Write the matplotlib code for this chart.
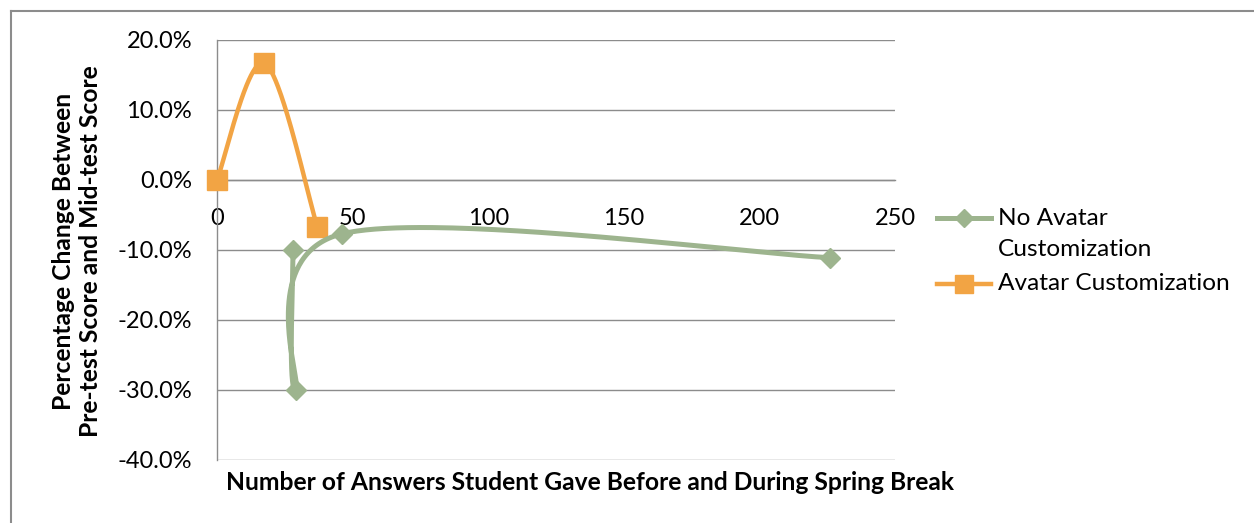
import matplotlib
matplotlib.use('Agg')
import matplotlib.pyplot as plt
import numpy as np
from matplotlib.lines import Line2D
from matplotlib.ticker import FuncFormatter

# ---- data ----
no_avatar_x = [28, 29, 46, 226]
no_avatar_y = [-0.10, -0.30, -0.077, -0.111]
avatar_x = [0, 17.5, 37]
avatar_y = [0.0, 0.167, -0.067]
series_names = ['No Avatar\nCustomization', 'Avatar Customization']
x_ticks = [0, 50, 100, 150, 200, 250]
y_ticks = [-0.4, -0.3, -0.2, -0.1, 0.0, 0.1, 0.2]
x_title = 'Number of Answers Student Gave Before and During Spring Break'
y_title = 'Percentage Change Between\nPre-test Score and Mid-test Score'

GREEN = '#9DB48E'
ORANGE = '#F2A444'
GRID = '#8C8C8C'
FONT = 'Lato'

W, H = 1254, 523
fig = plt.figure(figsize=(W / 100, H / 100), dpi=100)
plt.rcParams['font.family'] = [FONT, 'DejaVu Sans']


def fx(px):
    return px / W


def fy(py):
    return 1 - py / H


ax = fig.add_axes([fx(217), fy(460), 678 / W, 420 / H])
ax.set_xlim(x_ticks[0], x_ticks[-1])
ax.set_ylim(y_ticks[0], y_ticks[-1])
ax.set_xticks(x_ticks)
ax.set_yticks(y_ticks)
ax.yaxis.set_major_formatter(FuncFormatter(lambda v, p: f'{v * 100:.1f}%'))
ax.grid(axis='y', color=GRID, linewidth=1.0)
ax.set_axisbelow(True)
for s in ['top', 'right']:
    ax.spines[s].set_visible(False)
ax.spines['left'].set_color(GRID)
ax.spines['left'].set_linewidth(1.0)
ax.spines['bottom'].set_position(('data', 0))
ax.spines['bottom'].set_color(GRID)
ax.spines['bottom'].set_linewidth(1.0)
ax.tick_params(axis='both', length=0, labelsize=17, labelcolor='black')
ax.tick_params(axis='x', pad=20)
ax.tick_params(axis='y', pad=18)
for lab in ax.get_xticklabels() + ax.get_yticklabels():
    lab.set_fontfamily(FONT)


def smooth(ax, xs, ys, n=80):
    pts = ax.transData.transform(np.column_stack([xs, ys]))
    m = len(pts)
    out = [pts[0]]
    for i in range(m - 1):
        p0 = pts[i - 1] if i > 0 else pts[i]
        p1 = pts[i]
        p2 = pts[i + 1]
        p3 = pts[i + 2] if i + 2 < m else pts[i + 1]
        c1 = p1 + (p2 - p0) / 6.0
        c2 = p2 - (p3 - p1) / 6.0
        t = np.linspace(0, 1, n)[1:, None]
        b = ((1 - t) ** 3) * p1 + 3 * ((1 - t) ** 2) * t * c1 + 3 * (1 - t) * (t ** 2) * c2 + (t ** 3) * p2
        out.extend(b)
    out = np.array(out)
    return ax.transData.inverted().transform(out)


sa = smooth(ax, avatar_x, avatar_y)
ax.plot(sa[:, 0], sa[:, 1], color=ORANGE, lw=3.2, solid_capstyle='round', clip_on=False, zorder=3)
ax.plot(avatar_x, avatar_y, linestyle='none', marker='s', ms=14.5, color=ORANGE, mec=ORANGE, clip_on=False, zorder=4)

sn = smooth(ax, no_avatar_x, no_avatar_y)
ax.plot(sn[:, 0], sn[:, 1], color=GREEN, lw=3.6, solid_capstyle='round', clip_on=False, zorder=5)
ax.plot(no_avatar_x, no_avatar_y, linestyle='none', marker='D', ms=10.5, color=GREEN, mec=GREEN, clip_on=False, zorder=6)

# ---- legend (manual) ----
leg = [(GREEN, 'D', 10.5, 3.6, 218), (ORANGE, 's', 14.5, 3.2, 284)]
for (col, mk, ms, lw, yc), name in zip(leg, series_names):
    fig.add_artist(Line2D([fx(937), fx(991)], [fy(yc), fy(yc)], color=col, lw=lw,
                          transform=fig.transFigure))
    fig.add_artist(Line2D([fx(964)], [fy(yc)], marker=mk, ms=ms * 0.85, color=col, mec=col,
                          linestyle='none', transform=fig.transFigure))
    for k, line in enumerate(name.split('\n')):
        fig.text(fx(998), fy(yc + 32 * k), line, fontsize=17.6, family=FONT,
                 ha='left', va='center', color='black')

# ---- axis titles ----
fig.text(fx(590), fy(483), x_title, fontsize=17.7, fontweight='bold', family=FONT,
         ha='center', va='center')
fig.text(fx(77), fy(251), y_title, fontsize=17.7, fontweight='bold', family=FONT,
         ha='center', va='center', rotation=90, multialignment='center', linespacing=1.22)

# ---- outer border (top and left only visible) ----
fig.add_artist(Line2D([fx(11), fx(11)], [fy(11), fy(H)], color=GRID, lw=1.5, transform=fig.transFigure))
fig.add_artist(Line2D([fx(11), fx(W)], [fy(11), fy(11)], color=GRID, lw=1.5, transform=fig.transFigure))

fig.savefig('out.png', dpi=100)
